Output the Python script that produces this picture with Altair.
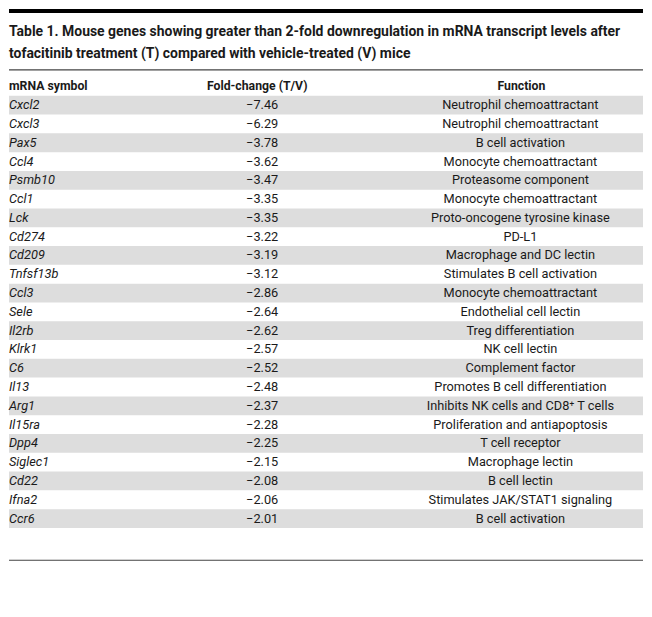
import altair as alt
import pandas as pd

# ---- table content ----
title_lines = [
    "Table 1. Mouse genes showing greater than 2-fold downregulation in mRNA transcript levels after",
    "tofacitinib treatment (T) compared with vehicle-treated (V) mice",
]
headers = ["mRNA symbol", "Fold-change (T/V)", "Function"]
symbols = ["Cxcl2", "Cxcl3", "Pax5", "Ccl4", "Psmb10", "Ccl1", "Lck", "Cd274", "Cd209",
           "Tnfsf13b", "Ccl3", "Sele", "Il2rb", "Klrk1", "C6", "Il13", "Arg1", "Il15ra",
           "Dpp4", "Siglec1", "Cd22", "Ifna2", "Ccr6"]
fold_change = [-7.46, -6.29, -3.78, -3.62, -3.47, -3.35, -3.35, -3.22, -3.19,
               -3.12, -2.86, -2.64, -2.62, -2.57, -2.52, -2.48, -2.37, -2.28,
               -2.25, -2.15, -2.08, -2.06, -2.01]
functions = ["Neutrophil chemoattractant", "Neutrophil chemoattractant", "B cell activation",
             "Monocyte chemoattractant", "Proteasome component", "Monocyte chemoattractant",
             "Proto-oncogene tyrosine kinase", "PD-L1", "Macrophage and DC lectin",
             "Stimulates B cell activation", "Monocyte chemoattractant", "Endothelial cell lectin",
             "Treg differentiation", "NK cell lectin", "Complement factor",
             "Promotes B cell differentiation", "Inhibits NK cells and CD8\u207a T cells",
             "Proliferation and antiapoptosis", "T cell receptor", "Macrophage lectin",
             "B cell lectin", "Stimulates JAK/STAT1 signaling", "B cell activation"]

# ---- layout (row units) ----
W, H = 636, 600
FONT = "Roboto"
TXT = "#1a1a1a"
BODY = 12.8
n = len(symbols)
ydom = [-5.12, 26.71]
xs = alt.Scale(domain=[0, W])
ys = alt.Scale(domain=ydom, reverse=True)

def fmt(v):
    return f"{v:.2f}".replace("-", "\u2212")

rows = pd.DataFrame({
    "row": list(range(n)),
    "symbol": symbols,
    "fold": [fmt(v) for v in fold_change],
    "func": functions,
})
rows["xs"] = 0
rows["xf"] = 254
rows["xfn"] = 513

shade = pd.DataFrame({"y": [i - 0.5 for i in range(0, n, 2)],
                      "y2": [i + 0.5 for i in range(0, n, 2)]})
shade["x"] = 0
shade["x2"] = W

base = alt.Chart(rows)

band = alt.Chart(shade).mark_rect(color="#dddddd").encode(
    x=alt.X("x:Q", scale=xs, axis=None), x2="x2:Q",
    y=alt.Y("y:Q", scale=ys, axis=None), y2="y2:Q")

sym = base.mark_text(align="left", baseline="middle", font=FONT, fontSize=BODY,
                     fontStyle="italic", color=TXT).encode(
    x=alt.X("xs:Q", scale=xs, axis=None), y=alt.Y("row:Q", scale=ys, axis=None), text="symbol:N")
fc = base.mark_text(align="center", baseline="middle", font=FONT, fontSize=BODY,
                    color=TXT).encode(
    x=alt.X("xf:Q", scale=xs, axis=None), y=alt.Y("row:Q", scale=ys, axis=None), text="fold:N")
fn = base.mark_text(align="center", baseline="middle", font=FONT, fontSize=BODY,
                    color=TXT).encode(
    x=alt.X("xfn:Q", scale=xs, axis=None), y=alt.Y("row:Q", scale=ys, axis=None), text="func:N")

hdr = pd.DataFrame({"text": headers, "x": [0, 249, 514], "y": [-1.03] * 3})
hdr_l = alt.Chart(hdr.iloc[[0]]).mark_text(align="left", baseline="middle", font=FONT,
                                           fontSize=12.3, fontWeight="bold", color=TXT).encode(
    x=alt.X("x:Q", scale=xs, axis=None), y=alt.Y("y:Q", scale=ys, axis=None), text="text:N")
hdr_c = alt.Chart(hdr.iloc[1:]).mark_text(align="center", baseline="middle", font=FONT,
                                          fontSize=12.3, fontWeight="bold", color=TXT).encode(
    x=alt.X("x:Q", scale=xs, axis=None), y=alt.Y("y:Q", scale=ys, axis=None), text="text:N")

ttl = pd.DataFrame({"text": title_lines, "x": [0, 0], "y": [-3.87, -2.70]})
title = alt.Chart(ttl).mark_text(align="left", baseline="middle", font=FONT, fontSize=14,
                                 fontWeight="bold", color=TXT).encode(
    x=alt.X("x:Q", scale=xs, axis=None), y=alt.Y("y:Q", scale=ys, axis=None), text="text:N")

topbar = alt.Chart(pd.DataFrame({"x": [0], "x2": [W], "y": [-5.12], "y2": [-4.90]})).mark_rect(
    color="#000000").encode(x=alt.X("x:Q", scale=xs, axis=None), x2="x2:Q",
                            y=alt.Y("y:Q", scale=ys, axis=None), y2="y2:Q")

lines = pd.DataFrame({"y": [-1.88, 24.22], "x": [0, 0], "x2": [W, W]})
rules = alt.Chart(lines).mark_rule(color="#444444", strokeWidth=1.2).encode(
    x=alt.X("x:Q", scale=xs, axis=None), x2="x2:Q", y=alt.Y("y:Q", scale=ys, axis=None))

chart = alt.layer(band, topbar, rules, title, hdr_l, hdr_c, sym, fc, fn).properties(
    width=W, height=H, padding=0
).configure_view(stroke=None)

chart.save("out.html", embed_options={"renderer": "svg", "actions": False})
